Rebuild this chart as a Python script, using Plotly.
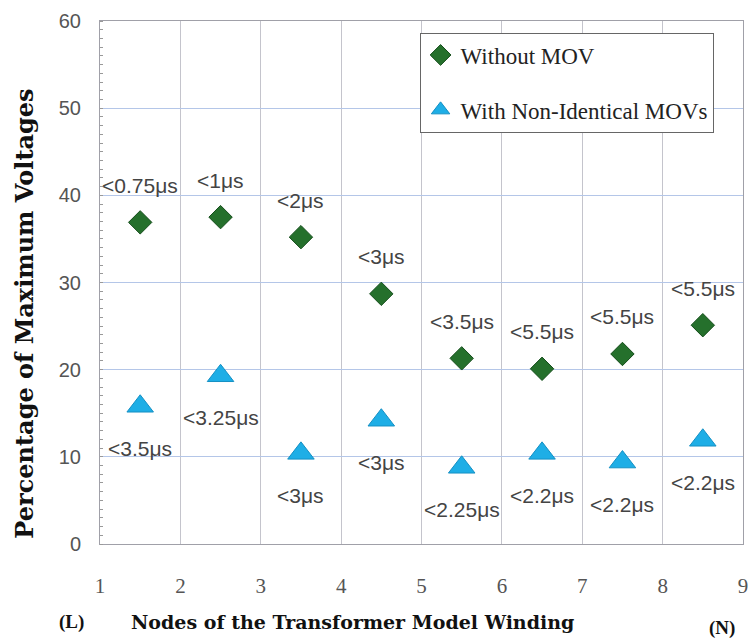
import plotly.graph_objects as go

nodes = [1.5, 2.5, 3.5, 4.5, 5.5, 6.5, 7.5, 8.5]
without_mov = [36.9, 37.5, 35.2, 28.7, 21.3, 20.1, 21.8, 25.1]
with_movs = [15.8, 19.3, 10.4, 14.2, 8.8, 10.4, 9.4, 11.9]
without_labels = ["<0.75μs", "<1μs", "<2μs", "<3μs", "<3.5μs", "<5.5μs", "<5.5μs", "<5.5μs"]
with_labels = ["<3.5μs", "<3.25μs", "<3μs", "<3μs", "<2.25μs", "<2.2μs", "<2.2μs", "<2.2μs"]
x_ticks = [1, 2, 3, 4, 5, 6, 7, 8, 9]
y_ticks = [0, 10, 20, 30, 40, 50, 60]

GREEN = "#25702c"
BLUE = "#1eaee6"

fig = go.Figure()
fig.add_trace(go.Scatter(
    x=nodes, y=without_mov, mode="markers", name="Without MOV",
    legendgroup="a",
    marker=dict(symbol="diamond", size=18, color=GREEN,
                line=dict(color="#144d1a", width=1)),
))
fig.add_trace(go.Scatter(
    x=nodes, y=with_movs, mode="markers", name="With Non-Identical MOVs",
    legendgroup="b",
    marker=dict(symbol="triangle-up", size=23, color=BLUE,
                line=dict(color="#1590c4", width=1)),
))

annotations = []
for xv, yv, t in zip(nodes, without_mov, without_labels):
    annotations.append(dict(x=xv, y=yv, text=t, showarrow=False, yshift=37,
                            font=dict(family="Liberation Sans", size=21, color="#444444")))
for xv, yv, t in zip(nodes, with_movs, with_labels):
    annotations.append(dict(x=xv, y=yv, text=t, showarrow=False, yshift=-42,
                            font=dict(family="Liberation Sans", size=21, color="#444444")))

annotations += [
    dict(xref="paper", yref="paper", x=-0.117, y=0.44, xanchor="center", yanchor="middle",
         text="<b>Percentage of Maximum Voltages</b>", textangle=-90, showarrow=False,
         font=dict(family="DejaVu Serif", size=24, color="#111111")),
    dict(xref="paper", yref="paper", x=0.392, y=-0.149, xanchor="center", yanchor="middle",
         text="<b>Nodes of the Transformer Model Winding</b>", showarrow=False,
         font=dict(family="DejaVu Serif", size=19, color="#111111")),
    dict(xref="paper", yref="paper", x=-0.045, y=-0.149, xanchor="center", yanchor="middle",
         text="<b>(L)</b>", showarrow=False,
         font=dict(family="Liberation Serif", size=19, color="#111111")),
    dict(xref="paper", yref="paper", x=0.967, y=-0.16, xanchor="center", yanchor="middle",
         text="<b>(N)</b>", showarrow=False,
         font=dict(family="Liberation Serif", size=19, color="#111111")),
]

fig.update_layout(
    width=755, height=641,
    margin=dict(l=100, r=7, t=21, b=97),
    paper_bgcolor="white", plot_bgcolor="white",
    showlegend=True,
    legend=dict(x=0.497, y=0.978, xanchor="left", yanchor="top",
                bgcolor="white", bordercolor="#666666", borderwidth=1,
                font=dict(family="Liberation Serif", size=23, color="#222222"),
                tracegroupgap=22, itemwidth=30),
    annotations=annotations,
)
fig.update_xaxes(
    range=[1, 9], tickvals=x_ticks, ticktext=[str(v) for v in x_ticks],
    showgrid=True, gridcolor="#c4c4cc", gridwidth=1,
    showline=True, linecolor="#a0a0a8", linewidth=1, mirror=True,
    zeroline=False, ticks="", ticklabelstandoff=23,
    tickfont=dict(family="Liberation Serif", size=21, color="#555555"),
)
fig.update_yaxes(
    range=[0, 60], tickvals=y_ticks,
    showgrid=True, gridcolor="#b4c6e8", gridwidth=1,
    showline=True, linecolor="#a0a0a8", linewidth=1, mirror=True,
    zeroline=False, ticks="", ticklabelstandoff=14,
    minor=dict(ticks="inside", dtick=1, ticklen=3, tickcolor="#999999", showgrid=False),
    tickfont=dict(family="Liberation Sans", size=20, color="#555555"),
)

fig.write_html("out.html")
